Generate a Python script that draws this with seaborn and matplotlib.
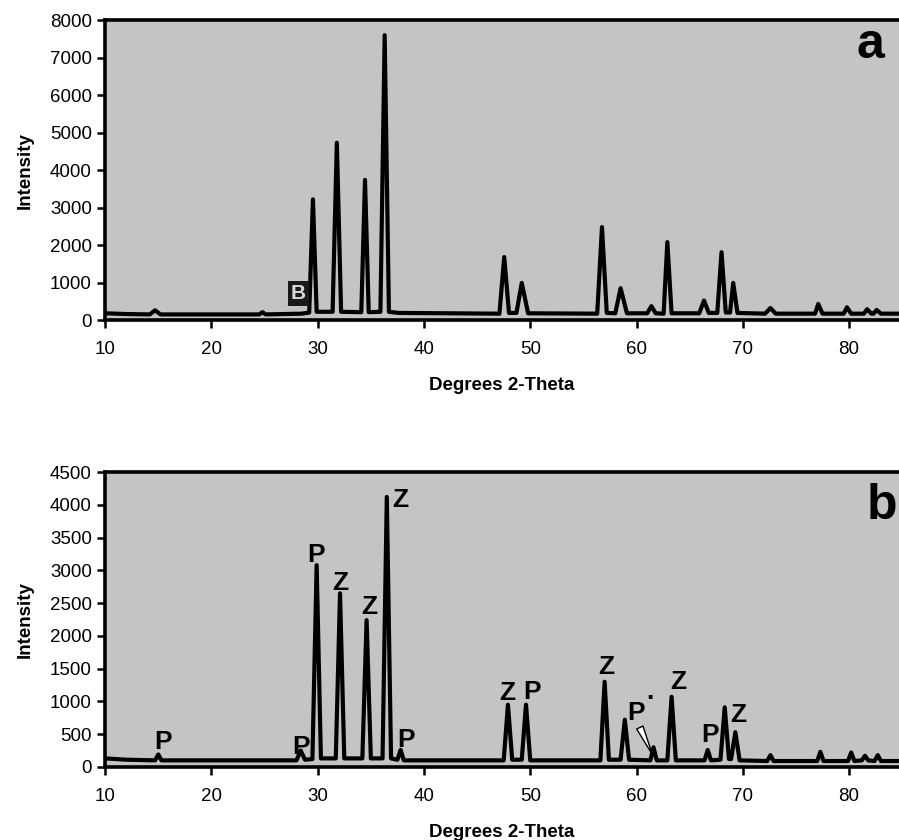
import matplotlib
matplotlib.use("Agg")
import matplotlib.pyplot as plt
import seaborn as sns
import pandas as pd

# XRD trace, panel a (2-theta, intensity)
theta_a = [10.0, 12.0, 14.2, 14.7, 15.2, 24.5, 24.8, 25.1, 28.5, 29.2, 29.55, 29.9,
           31.4, 31.8, 32.2, 34.1, 34.45, 34.8, 35.9, 36.3, 36.7, 37.6,
           47.1, 47.55, 48.0, 48.7, 49.2, 49.8, 56.3, 56.75, 57.2, 58.0, 58.5, 59.1,
           61.0, 61.4, 61.8, 62.55, 62.9, 63.3, 65.9, 66.35, 66.8, 67.6, 68.0, 68.4,
           68.8, 69.1, 69.5, 72.1, 72.6, 73.1, 76.8, 77.1, 77.5, 79.5, 79.8, 80.2,
           81.4, 81.7, 82.1, 82.3, 82.6, 83.0, 84.7]
int_a = [180, 160, 150, 260, 150, 150, 210, 150, 170, 200, 3220, 220,
         220, 4730, 220, 210, 3740, 210, 220, 7600, 220, 190,
         170, 1680, 190, 190, 990, 180, 170, 2480, 190, 180, 850, 180,
         180, 370, 180, 170, 2080, 180, 180, 520, 190, 190, 1810, 200,
         200, 990, 190, 170, 320, 170, 170, 430, 170, 170, 340, 170,
         170, 290, 170, 170, 270, 170, 170]

# XRD trace, panel b
theta_b = [10.0, 12.0, 14.7, 15.0, 15.3, 28.0, 28.4, 28.8, 29.5, 29.9, 30.3,
           31.7, 32.1, 32.5, 34.2, 34.6, 35.0, 36.1, 36.5, 36.9, 37.5, 37.8, 38.1,
           47.5, 47.9, 48.3, 49.2, 49.6, 50.0, 56.6, 57.0, 57.4, 58.5, 58.9, 59.3,
           61.3, 61.6, 61.9, 62.9, 63.3, 63.7, 66.4, 66.7, 67.0, 67.9, 68.3, 68.7,
           68.9, 69.3, 69.7, 72.3, 72.6, 72.9, 77.0, 77.3, 77.6, 79.9, 80.2, 80.5,
           81.2, 81.5, 81.8, 82.4, 82.7, 83.0, 84.7]
int_b = [130, 110, 100, 190, 100, 100, 250, 110, 120, 3080, 130,
         130, 2650, 130, 130, 2240, 130, 130, 4120, 130, 110, 260, 100,
         100, 950, 110, 110, 950, 100, 100, 1300, 110, 110, 720, 110,
         100, 300, 100, 100, 1070, 100, 100, 260, 100, 110, 910, 120,
         120, 530, 100, 90, 180, 90, 90, 230, 90, 90, 220, 90,
         100, 170, 100, 90, 180, 90, 90]

# phase labels on panel b (P / Z) and where they sit
phase_b = ["P", "P", "P", "Z", "Z", "Z", "P", "Z", "P", "Z", "P", "Z", "P", "Z"]
phase_x = [15.4, 28.4, 29.8, 32.1, 34.9, 37.8, 38.3, 47.8, 50.2, 57.2, 60.0, 63.9, 66.9, 69.6]
phase_y = [380, 300, 3230, 2810, 2440, 4080, 410, 1130, 1140, 1530, 820, 1290, 490, 800]

sns.set_style("ticks")
plt.rcParams["font.family"] = ["Liberation Sans", "DejaVu Sans"]
plt.rcParams.update({"text.color": "black", "axes.labelcolor": "black",
                     "xtick.color": "black", "ytick.color": "black",
                     "axes.edgecolor": "black"})

fig = plt.figure(figsize=(8.99, 8.40), dpi=100)
ax1 = fig.add_axes([0.117, 0.619, 0.883, 0.357])
ax2 = fig.add_axes([0.117, 0.087, 0.883, 0.351])

bg = "#c4c4c4"
panels = [(ax1, theta_a, int_a, 8000, 1000, "a", 82.0, 7330),
          (ax2, theta_b, int_b, 4500, 500, "b", 83.1, 3980)]

for ax, tx, ty, ymax, ystep, tag, tagx, tagy in panels:
    df = pd.DataFrame({"theta": tx, "intensity": ty})
    sns.lineplot(data=df, x="theta", y="intensity", ax=ax, color="black",
                 linewidth=3.0, estimator=None, sort=False)
    ax.set_facecolor(bg)
    ax.set_xlim(10, 84.7)
    ax.set_ylim(0, ymax)
    ax.set_xticks(range(10, 90, 10))
    ax.set_yticks(range(0, ymax + 1, ystep))
    ax.tick_params(axis="both", labelsize=13.5, width=1.8, length=6, direction="out")
    ax.tick_params(axis="x", pad=9)
    for side in ["left", "top", "bottom"]:
        ax.spines[side].set_linewidth(2.6)
    ax.spines["right"].set_visible(False)
    ax.set_xlabel("Degrees 2-Theta", fontsize=13.5, fontweight="bold", labelpad=14)
    ax.set_ylabel("Intensity", fontsize=13.5, fontweight="bold", labelpad=12)
    ax.text(tagx, tagy, tag, fontsize=36, fontweight="bold", ha="center", va="center")

# smudged label left over in panel a
ax1.text(28.2, 700, "B", fontsize=15, fontweight="bold", color="#d8d8d8",
         ha="center", va="center",
         bbox=dict(boxstyle="square,pad=0.15", facecolor="#1a1a1a", edgecolor="none"))

for lab, lx, ly in zip(phase_b, phase_x, phase_y):
    ax2.text(lx, ly, lab, fontsize=19, fontweight="bold", ha="center", va="center")
ax2.text(61.3, 1150, ".", fontsize=19, fontweight="bold", ha="center", va="center")
ax2.annotate("", xy=(61.6, 150), xytext=(60.2, 640),
             arrowprops=dict(arrowstyle="wedge,tail_width=0.5", facecolor="white",
                             edgecolor="black", linewidth=1))

fig.savefig("out.png", dpi=100)
